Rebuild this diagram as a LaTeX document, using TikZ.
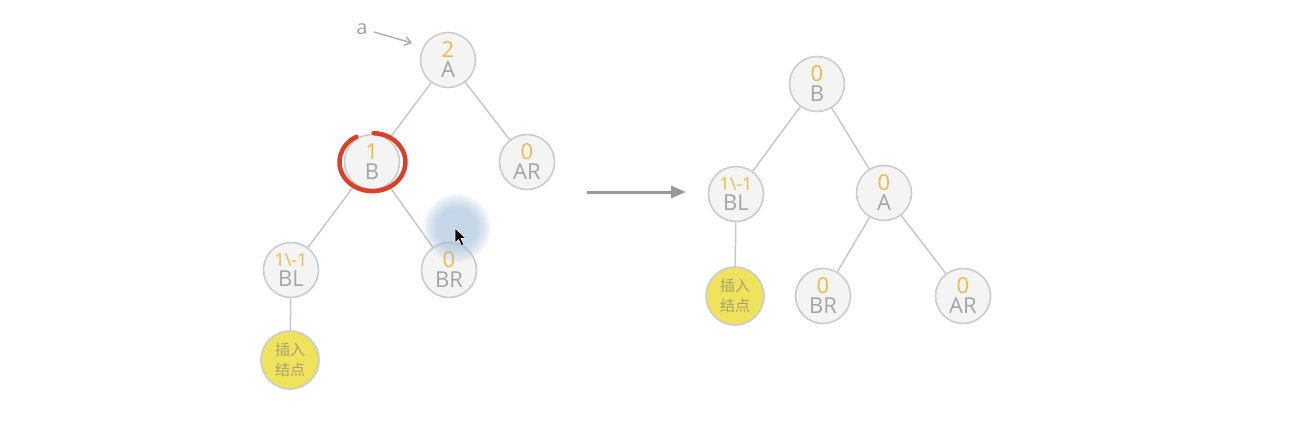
\documentclass[tikz,border=0pt]{standalone}
\usepackage{fontspec}
\setmainfont{Open Sans}
\newfontfamily\cjk{Noto Sans CJK SC}
\usetikzlibrary{arrows.meta,calc}
\definecolor{edgec}{HTML}{C8C8C8}
\definecolor{nodefill}{HTML}{F4F4F4}
\definecolor{nodeline}{HTML}{CCCCCC}
\definecolor{letterc}{HTML}{A4A4A4}
\definecolor{numc}{HTML}{F0B848}
\definecolor{insfill}{HTML}{EFE25C}
\definecolor{instext}{HTML}{A8A26A}
\definecolor{markred}{HTML}{D8402A}
\definecolor{halo}{HTML}{9FBCDD}
\definecolor{arrowc}{HTML}{999999}
\tikzset{
  tnode/.style={circle, draw=nodeline, fill=nodefill, line width=1.6pt,
    minimum size=55pt, inner sep=0pt, align=center, text=letterc,
    font=\fontsize{22}{20}\selectfont},
  insnode/.style={circle, draw=nodeline, fill=insfill, line width=1.6pt,
    minimum size=58pt, inner sep=0pt, align=center, text=instext,
    font=\cjk\fontsize{15}{20}\selectfont},
  tedge/.style={draw=edgec, line width=1.5pt},
}
\newcommand{\bal}[2]{{\color{numc}#1}\\#2}
\begin{document}
\begin{tikzpicture}[x=1pt,y=1pt]
\useasboundingbox[fill=white] (0,0) rectangle (1294,-436);

% left tree, before rotation
\node[tnode] (lA)  at (448,-60)  {\bal{2}{A}};
\node[tnode] (lB)  at (372,-162) {\bal{1}{B}};
\node[tnode] (lAR) at (527,-162) {\bal{0}{AR}};
\node[tnode] (lBL) at (291,-270) {{\color{numc}\fontsize{18}{20}\selectfont 1\textbackslash{}-1}\\BL};
\node[tnode] (lBR) at (449,-270) {\bal{0}{BR}};
\node[insnode] (lIns) at (290,-360) {插入\\结点};
\draw[tedge] (lA) -- (lB);
\draw[tedge] (lA) -- (lAR);
\draw[tedge] (lB) -- (lBL);
\draw[tedge] (lB) -- (lBR);
\draw[tedge] (lBL) -- (lIns);

% pointer label
\node[text=letterc, font=\fontsize{20}{20}\selectfont, inner sep=0pt] (la) at (362,-29) {a};
\coordinate (laS) at (374,-32);
\coordinate (laE) at (412,-43);
\draw[draw=letterc!90, line width=1.4pt, -{Straight Barb[length=6pt,width=9pt]}] (laS) -- (laE);

% hand-drawn red mark around B
\draw[markred, line width=4.5pt, line cap=round]
  ($(lB)+(-1,-1)$) ++(119:30) arc[start angle=119, end angle=448, x radius=33, y radius=29];

% right tree, after rotation
\node[tnode] (rB)  at (817,-84)  {\bal{0}{B}};
\node[tnode] (rBL) at (736,-194) {{\color{numc}\fontsize{18}{20}\selectfont 1\textbackslash{}-1}\\BL};
\node[tnode] (rA)  at (884,-193) {\bal{0}{A}};
\node[insnode] (rIns) at (735,-296) {插入\\结点};
\node[tnode] (rBR) at (823,-296) {\bal{0}{BR}};
\node[tnode] (rAR) at (963,-296) {\bal{0}{AR}};
\draw[tedge] (rB) -- (rBL);
\draw[tedge] (rB) -- (rA);
\draw[tedge] (rBL) -- (rIns);
\draw[tedge] (rA) -- (rBR);
\draw[tedge] (rA) -- (rAR);

% transition arrow
\coordinate (trS) at (587,-192);
\coordinate (trE) at (686,-192);
\draw[arrowc, line width=3pt, -{Triangle[length=15pt,width=12pt]}] (trS) -- (trE);

% mouse cursor with click halo
\foreach \r in {34,32,...,20}
  \fill[halo, opacity=0.1] (457,-228) circle[radius=\r];
\filldraw[fill=black, draw=white, line width=0.6pt]
  (455,-228) -- (455,-243) -- (458.5,-239.5) -- (461.5,-246) -- (464,-245)
  -- (461,-238.5) -- (466,-238.5) -- cycle;
\end{tikzpicture}
\end{document}
